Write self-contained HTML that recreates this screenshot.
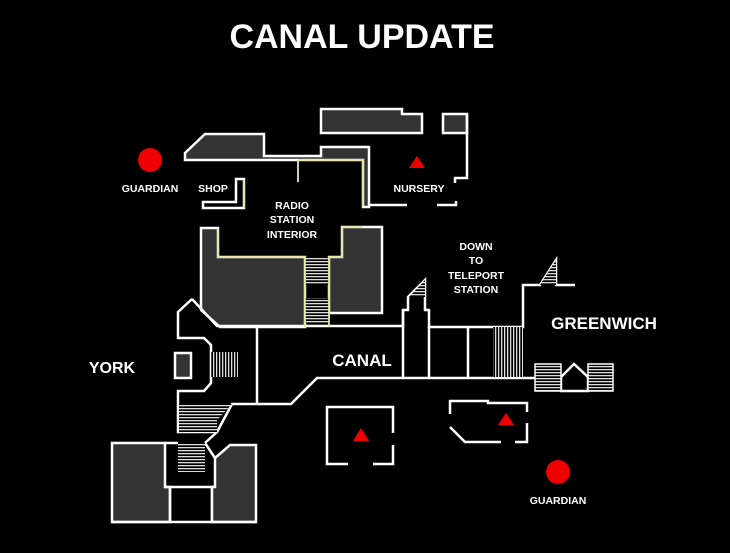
<!DOCTYPE html>
<html><head><style>
html,body{margin:0;padding:0;background:#000;}
svg{display:block;}
text{font-family:"Liberation Sans",sans-serif;font-weight:bold;fill:#fff;text-anchor:middle;}
</style></head><body>
<svg width="730" height="553" viewBox="0 0 730 553">
<defs>
<pattern id="hh" width="4" height="3" patternUnits="userSpaceOnUse"><rect width="4" height="3" fill="#000"/><rect width="4" height="1.3" fill="#ddd"/></pattern>
<pattern id="hv" width="3" height="4" patternUnits="userSpaceOnUse"><rect width="3" height="4" fill="#000"/><rect width="1.3" height="4" fill="#ddd"/></pattern>
</defs>
<rect width="730" height="553" fill="#000"/>
<text x="362" y="48" font-size="34" style="font-weight:900">CANAL UPDATE</text>

<g stroke="#fff" stroke-width="2.5" fill="#333" stroke-linejoin="miter">
<!-- top -->
<path d="M321,109 H402 V114 H422 V133 H321 Z"/>
<path d="M443,114 H467 V133 H443 Z"/>
<path d="M467,114 V178 H455 V183" fill="none"/>
<path d="M185,160 V153 L205,134 H264 V156 H321 V147 H369 V207 H363 V160 H185 Z"/>
<path d="M369,205 H407 M437,205 H456 V201" fill="none"/>
<path d="M203,202 H236 V179 H244 V208 H203 Z" fill="none"/>
<!-- radio lower -->
<path d="M201,228 H218 V257 H305 V327 H220 L201,310 Z"/>
<path d="M329,257 H342 V227 H382 V313 H329 Z"/>
<!-- york/canal outline -->
<path d="M192,299 L178,312 V338 H204 L211,345 V383 L204,391 H178 V432 H217 L232,404 H291 L317,378 H535" fill="none"/>
<path d="M192,299 L217,326 H403 V310 H408 V297 L425,280 V310 H429 V327 H523 V285 H540 L556,260 V285 H575" fill="none"/>
<path d="M257,326 V404 M403,310 V377 M429,327 V377 M468,327 V377" fill="none"/>
<path d="M175,353 H191 V378 H175 Z"/>
<path d="M217,432 L205,443" fill="none"/>
<!-- bottom-left -->
<path d="M112,443 H165 V487 H170 V522 H112 Z"/>
<path d="M165,443 H178 M205,443 L215,458 M165,487 H215 M170,522 V487 M212,522 V487" fill="none"/>
<path d="M215,487 V458 L230,445 H256 V522 H212 V487 Z"/>
<path d="M112,522 H256" fill="none"/>
<!-- boxes -->
<path d="M393,433 V407 H327 V464 H348 M373,464 H393 V445" fill="none"/>
<path d="M450,414 V401 H488 V403 H527 V412 M527,423 V442 H515 M501,442 H465 L450,427" fill="none"/>
<!-- greenwich house -->
<path d="M561,391 V377 L574,364 L588,377 V391 Z" fill="none"/>
</g>
<!-- hatches -->
<g stroke="#fff" stroke-width="1.5">
<rect x="305" y="257" width="24" height="28" fill="url(#hh)" stroke="none"/>
<rect x="305" y="298" width="24" height="25" fill="url(#hh)" stroke="none"/>
<rect x="211" y="352" width="27" height="25" fill="url(#hv)" stroke="none"/>
<path d="M179,404 H232 L217,420 V432 H179 Z" fill="url(#hh)" stroke="none"/>
<rect x="178" y="443" width="27" height="29" fill="url(#hh)" stroke="none"/>
<rect x="493" y="327" width="30" height="50" fill="url(#hv)" stroke="none"/>
<rect x="535" y="364" width="26" height="27" fill="url(#hh)" stroke="#fff" stroke-width="1.5"/>
<rect x="588" y="364" width="25" height="27" fill="url(#hh)" stroke="#fff" stroke-width="1.5"/>
<path d="M409,297 L425,280 V297 Z" fill="url(#hh)" stroke="none"/>
<path d="M540,285 L556,260 V285 Z" fill="url(#hh)" stroke="none"/>
</g>
<!-- yellow -->
<g stroke="#e8e4a0" stroke-width="1.8" fill="none">
<path d="M298,182 V160 H363 V207"/>
<path d="M218,228 V257 H305 V327 M329,327 V257 H342 V227 H363"/>
<path d="M244,179 V208"/>
</g>
<!-- markers -->
<circle cx="150" cy="160" r="12" fill="#e00"/>
<circle cx="558" cy="472" r="12" fill="#e00"/>
<polygon points="417,156 425,168 409,168" fill="#e00"/>
<polygon points="361,428 369,441 353,441" fill="#e00"/>
<polygon points="506,413 514,425 498,425" fill="#e00"/>
<!-- labels -->
<g font-size="10.5">
<text x="150" y="192">GUARDIAN</text>
<text x="213" y="192">SHOP</text>
<text x="292" y="209">RADIO</text>
<text x="292" y="223">STATION</text>
<text x="292" y="238">INTERIOR</text>
<text x="419" y="192">NURSERY</text>
<text x="476" y="250">DOWN</text>
<text x="476" y="264">TO</text>
<text x="476" y="279">TELEPORT</text>
<text x="476" y="293">STATION</text>
<text x="558" y="504">GUARDIAN</text>
</g>
<text x="604" y="329" font-size="17">GREENWICH</text>
<text x="112" y="373" font-size="16">YORK</text>
<text x="362" y="366" font-size="17">CANAL</text>
</svg>
</body></html>
